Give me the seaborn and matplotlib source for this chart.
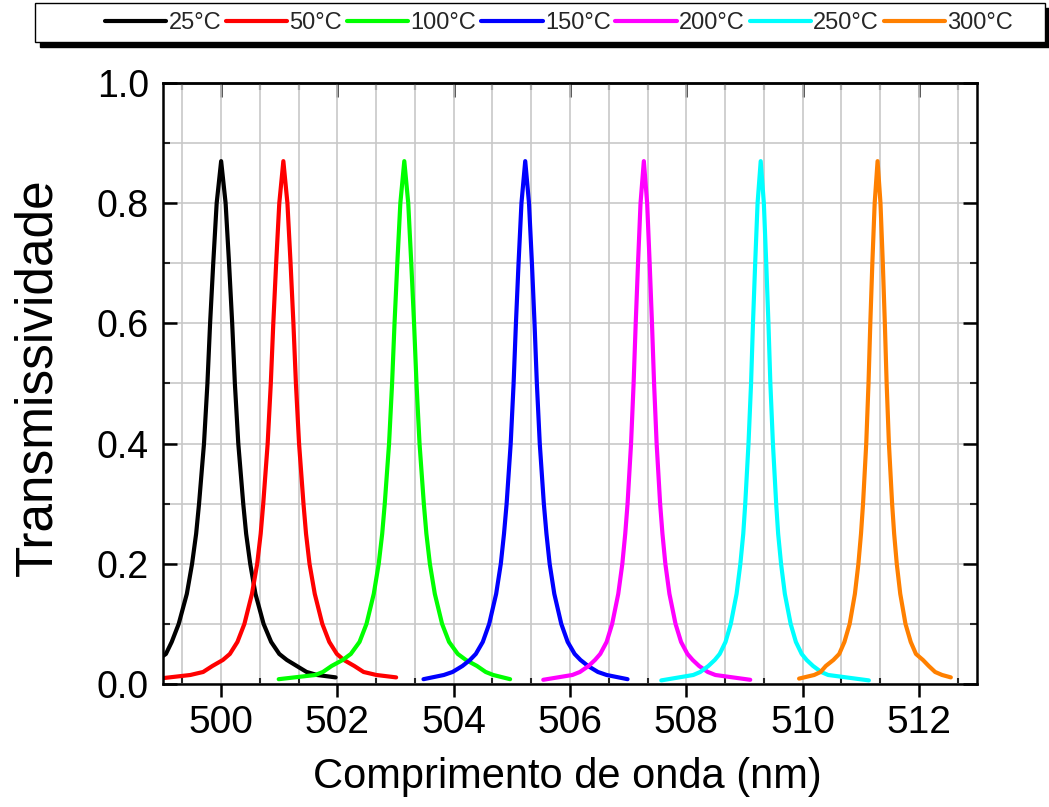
import matplotlib
matplotlib.use("Agg")
import matplotlib.pyplot as plt
from matplotlib import font_manager
from matplotlib.patches import Rectangle
from matplotlib.ticker import MultipleLocator, AutoMinorLocator
from matplotlib.lines import Line2D
import seaborn as sns
import pandas as pd

# ---------------- data ----------------
labels = ["25°C", "50°C", "100°C", "150°C", "200°C", "250°C", "300°C"]
colors = ["#000000", "#ff0000", "#00ff00", "#0000ff", "#ff00ff", "#00ffff", "#ff8000"]

# transmission levels at which wavelengths were read (rising side, low -> high)
levels_up = [0.015, 0.02, 0.03, 0.04, 0.05, 0.07, 0.10, 0.15, 0.20, 0.25, 0.30,
             0.40, 0.50, 0.60, 0.70, 0.80]
peak_T = [0.87, 0.87, 0.87, 0.87, 0.87, 0.87, 0.87]
peak_wl = [500.00, 501.07, 503.15, 505.23, 507.27, 509.28, 511.29]

start_wl = [498.00, 499.02, 500.99, 503.48, 505.54, 507.57, 509.94]
start_T = [0.008, 0.010, 0.008, 0.008, 0.007, 0.006, 0.009]
end_wl = [501.97, 503.01, 504.97, 506.99, 509.10, 511.14, 512.55]
end_T = [0.011, 0.011, 0.008, 0.008, 0.007, 0.006, 0.011]

left_25 = [498.35, 498.53, 498.73, 498.90, 499.05, 499.15, 499.27, 499.41, 499.50, 499.57,
           499.62, 499.705, 499.764, 499.81, 499.864, 499.923]
right_25 = [500.077, 500.136, 500.19, 500.236, 500.295, 500.38, 500.43, 500.50, 500.59,
            500.73, 500.86, 501.00, 501.13, 501.30, 501.47, 501.65]
left_50 = [499.47, 499.69, 499.85, 500.03, 500.15, 500.28, 500.40, 500.53, 500.62, 500.68,
           500.724, 500.80, 500.854, 500.897, 500.946, 501.00]
right_50 = [501.14, 501.194, 501.243, 501.286, 501.34, 501.416, 501.46, 501.52, 501.61,
            501.74, 501.86, 501.99, 502.11, 502.29, 502.45, 502.67]
left_100 = [501.62, 501.75, 501.90, 502.09, 502.23, 502.38, 502.50, 502.625, 502.71, 502.77,
            502.814, 502.888, 502.94, 502.982, 503.03, 503.082]
right_100 = [503.218, 503.27, 503.318, 503.36, 503.412, 503.486, 503.53, 503.59, 503.675,
             503.80, 503.92, 504.07, 504.21, 504.40, 504.55, 504.68]
left_150 = [503.83, 503.98, 504.15, 504.28, 504.38, 504.50, 504.61, 504.73, 504.81, 504.865,
            504.91, 504.98, 505.03, 505.07, 505.115, 505.165]
right_150 = [505.295, 505.345, 505.39, 505.43, 505.48, 505.55, 505.595, 505.65, 505.73,
             505.85, 505.96, 506.08, 506.18, 506.31, 506.48, 506.63]
left_200 = [506.04, 506.17, 506.32, 506.43, 506.52, 506.63, 506.725, 506.83, 506.90, 506.95,
            506.99, 507.05, 507.094, 507.13, 507.17, 507.213]
right_200 = [507.327, 507.37, 507.41, 507.446, 507.49, 507.55, 507.59, 507.64, 507.71,
             507.815, 507.91, 508.02, 508.11, 508.22, 508.37, 508.50]
left_250 = [508.12, 508.24, 508.38, 508.49, 508.575, 508.675, 508.765, 508.865, 508.93,
            508.98, 509.014, 509.07, 509.114, 509.147, 509.185, 509.226]
right_250 = [509.334, 509.375, 509.413, 509.446, 509.49, 509.546, 509.58, 509.63, 509.695,
             509.795, 509.885, 509.985, 510.07, 510.18, 510.32, 510.44]
left_300 = [510.20, 510.31, 510.40, 510.53, 510.63, 510.72, 510.81, 510.90, 510.96, 511.005,
            511.04, 511.095, 511.134, 511.165, 511.20, 511.24]
right_300 = [511.34, 511.38, 511.415, 511.446, 511.485, 511.54, 511.575, 511.62, 511.68,
             511.77, 511.86, 511.95, 512.07, 512.17, 512.28, 512.40]

lefts = [left_25, left_50, left_100, left_150, left_200, left_250, left_300]
rights = [right_25, right_50, right_100, right_150, right_200, right_250, right_300]

x_ticks = [500, 502, 504, 506, 508, 510, 512]
y_ticks = [0.0, 0.2, 0.4, 0.6, 0.8, 1.0]

# ---------------- build long table ----------------
rows = []
for i, lab in enumerate(labels):
    wl = [start_wl[i]] + lefts[i] + [peak_wl[i]] + rights[i] + [end_wl[i]]
    tt = [start_T[i]] + levels_up + [peak_T[i]] + levels_up[::-1] + [end_T[i]]
    for k, (w, t) in enumerate(zip(wl, tt)):
        rows.append({"wl": w, "T": t, "serie": lab, "k": k})
df = pd.DataFrame(rows)

# ---------------- fonts ----------------
sns.set_theme(style="white")
names = {f.name for f in font_manager.fontManager.ttflist}
narrow = "Liberation Sans Narrow" if "Liberation Sans Narrow" in names else "Liberation Sans"
regular = "Liberation Sans"
plt.rcParams["font.family"] = [regular, "DejaVu Sans"]

fig = plt.figure(figsize=(10.49, 8.07), dpi=100)
ax = fig.add_axes([163 / 1049, 1 - 684 / 807, (977 - 163) / 1049, (684 - 83) / 807])

sns.lineplot(data=df, x="wl", y="T", hue="serie", hue_order=labels,
             palette=dict(zip(labels, colors)), sort=False, estimator=None,
             units="serie", linewidth=3.0, ax=ax, legend=False)

ax.set_xlim(499, 513)
ax.set_ylim(0, 1.0)
ax.xaxis.set_major_locator(MultipleLocator(2))
ax.xaxis.set_minor_locator(AutoMinorLocator(3))
ax.yaxis.set_major_locator(MultipleLocator(0.2))
ax.yaxis.set_minor_locator(MultipleLocator(0.1))
ax.set_xticks(x_ticks)
ax.set_xticklabels([str(v) for v in x_ticks], fontfamily=narrow, fontsize=28)
ax.set_yticks(y_ticks)
ax.set_yticklabels([f"{v:.1f}" for v in y_ticks], fontfamily=regular, fontsize=27)

ax.grid(True, which="both", color="#c8c8c8", linewidth=1.2)
ax.set_axisbelow(True)

for s in ax.spines.values():
    s.set_visible(True)
    s.set_color("black")
    s.set_linewidth(1.8)

ax.tick_params(axis="x", which="major", direction="out", length=9, width=1.8,
               bottom=True, top=False, pad=6, colors="black")
ax.tick_params(axis="x", which="minor", direction="in", length=4, width=1.5,
               bottom=True, top=False)
ax.tick_params(axis="y", which="major", direction="in", length=10, width=1.8,
               left=True, right=True, pad=10, colors="black")
ax.tick_params(axis="y", which="minor", direction="in", length=5, width=1.5,
               left=True, right=True)
# top axis inward ticks
sec = ax.secondary_xaxis("top")
sec.xaxis.set_major_locator(MultipleLocator(2))
sec.xaxis.set_minor_locator(AutoMinorLocator(3))
sec.tick_params(axis="x", which="major", direction="in", length=10, width=1.8, labeltop=False)
sec.tick_params(axis="x", which="minor", direction="in", length=5, width=1.5)
sec.spines["top"].set_linewidth(1.8)

ax.set_xlabel("Comprimento de onda (nm)", fontfamily=narrow, fontsize=30, color="black")
ax.set_ylabel("Transmissividade", fontfamily=regular, fontsize=37, color="black")
ax.xaxis.set_label_coords(0.497, -0.122)
ax.yaxis.set_label_coords(-0.124, 0.51)

# ---------------- legend with boxed frame and shadow ----------------
W, H = 1049, 807
fig.patches.append(Rectangle((40 / W, 1 - 47 / H), (1060 - 40) / W, (47 - 8) / H,
                             transform=fig.transFigure, facecolor="black",
                             edgecolor="black", zorder=0))
fig.patches.append(Rectangle((35 / W, 1 - 42 / H), (1045 - 35) / W, (42 - 3) / H,
                             transform=fig.transFigure, facecolor="white",
                             edgecolor="black", linewidth=1.0, zorder=1))
handles = [Line2D([], [], color=c, linewidth=3.0) for c in colors]
leg = fig.legend(handles, labels, loc="center", bbox_to_anchor=(559 / W, 1 - 23 / H),
                 ncol=7, frameon=False, prop={"family": narrow, "size": 17},
                 handlelength=2.6, handletextpad=0.1, columnspacing=0.2,
                 borderaxespad=0)

fig.savefig("out.png", dpi=100)
